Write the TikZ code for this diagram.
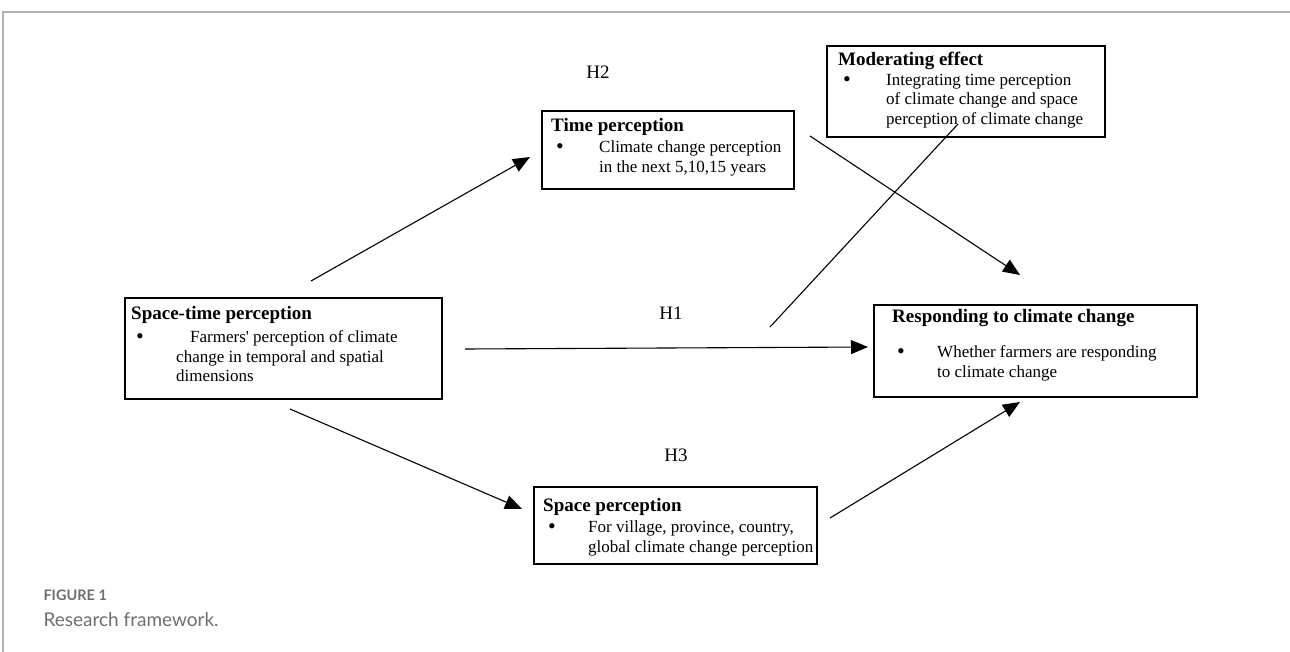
\documentclass[tikz,border=0pt]{standalone}
\usepackage{fontspec}
\setmainfont{Liberation Serif}
\newfontfamily\capfont{Lato}
\usetikzlibrary{arrows.meta, calc}

\definecolor{framegray}{HTML}{B3B3B3}
\definecolor{capgray}{HTML}{6D6E71}
% bullet with a hanging indent
\newcommand{\bul}[1]{\makebox[#1][l]{\hspace*{5pt}\raisebox{-1pt}{\fontsize{22}{18}\selectfont\textbullet}}}

\begin{document}
\begin{tikzpicture}[
    x=1pt, y=-1pt,
    % boxes, texts and arrows
    percbox/.style={draw, line width=1.6pt, inner sep=0pt, anchor=north west},
    boxtext/.style={anchor=north west, inner sep=0pt, align=left,
        font=\fontsize{17}{19.5}\selectfont},
    hlabel/.style={font=\fontsize{19}{22}\selectfont},
    line/.style={draw, line width=1.1pt, -{Triangle[length=17pt,width=14pt]}},
    plain/.style={draw, line width=1.1pt}
]
    \useasboundingbox (0,0) rectangle (1290,652);
    \draw[framegray, line width=1.5pt] (1290,12) -- (3,12) -- (3,652);

    % Boxes
    \node [percbox, minimum width=317pt, minimum height=101pt] (st) at (124,297) {};
    \node [percbox, minimum width=252pt, minimum height=78pt] (time) at (541,110) {};
    \node [percbox, minimum width=278pt, minimum height=91pt] (mod) at (826,45) {};
    \node [percbox, minimum width=323pt, minimum height=92pt] (resp) at (873,304) {};
    \node [percbox, minimum width=283pt, minimum height=77pt] (space) at (533,486) {};

    % Texts
    \node [boxtext] (st-txt) at ($(st.north west)+(7,9.5)$)
        {{\fontsize{19}{19.5}\selectfont\bfseries Space-time perception}\\[3.5pt]
         \bul{59pt}Farmers\textquotesingle{} perception of climate\\
         \hspace*{45pt}change in temporal and spatial\\
         \hspace*{45pt}dimensions};
    \node [boxtext] (time-txt) at ($(time.north west)+(10,8.5)$)
        {{\fontsize{19}{19.5}\selectfont\bfseries Time perception}\\[1.5pt]
         \bul{48pt}Climate change perception\\
         \hspace*{48pt}in the next 5,10,15 years};
    \node [boxtext] (mod-txt) at ($(mod.north west)+(12,6.5)$)
        {{\fontsize{19}{19.5}\selectfont\bfseries Moderating effect}\\[0.5pt]
         \bul{48pt}Integrating time perception\\
         \hspace*{48pt}of climate change and space\\
         \hspace*{48pt}perception of climate change};
    \node [boxtext] (resp-txt) at ($(resp.north west)+(19,5.5)$)
        {{\fontsize{19}{19.5}\selectfont\bfseries Responding to climate change}\\[15.5pt]
         \bul{45pt}Whether farmers are responding\\
         \hspace*{45pt}to climate change};
    \node [boxtext] (space-txt) at ($(space.north west)+(10,12.5)$)
        {{\fontsize{19}{19.5}\selectfont\bfseries Space perception}\\[1.5pt]
         \bul{45pt}For village, province, country,\\
         \hspace*{45pt}global climate change perception};

    % Hypotheses
    \node [hlabel] (h2) at (598,72) {H2};
    \node [hlabel] (h1) at (671,313) {H1};
    \node [hlabel] (h3) at (676,455) {H3};

    % Arrow ends
    \coordinate (st-up) at (311,281);
    \coordinate (time-in) at (530,157);
    \coordinate (time-out) at (810,136);
    \coordinate (resp-top) at (1020,275);
    \coordinate (mod-out) at (958,124);
    \coordinate (h1-mid) at (770,327);
    \coordinate (st-right) at (465,349);
    \coordinate (resp-left) at (868,347);
    \coordinate (st-down) at (290,409);
    \coordinate (space-in) at (522,509);
    \coordinate (space-out) at (830,518);
    \coordinate (resp-bot) at (1020,402);

    % Paths (Arrows)
    \path [line] (st-up) -- (time-in);
    \path [line] (time-out) -- (resp-top);
    \path [plain] (mod-out) -- (h1-mid);
    \path [line] (st-right) -- (resp-left);
    \path [line] (st-down) -- (space-in);
    \path [line] (space-out) -- (resp-bot);

    % Caption
    \node [anchor=west, text=capgray, font=\capfont\bfseries\fontsize{14.5}{17}\selectfont] (fig) at (40,595) {FIGURE 1};
    \node [anchor=west, text=capgray, font=\capfont\fontsize{19}{22}\selectfont] (cap) at (40,620) {Research framework.};
\end{tikzpicture}
\end{document}
